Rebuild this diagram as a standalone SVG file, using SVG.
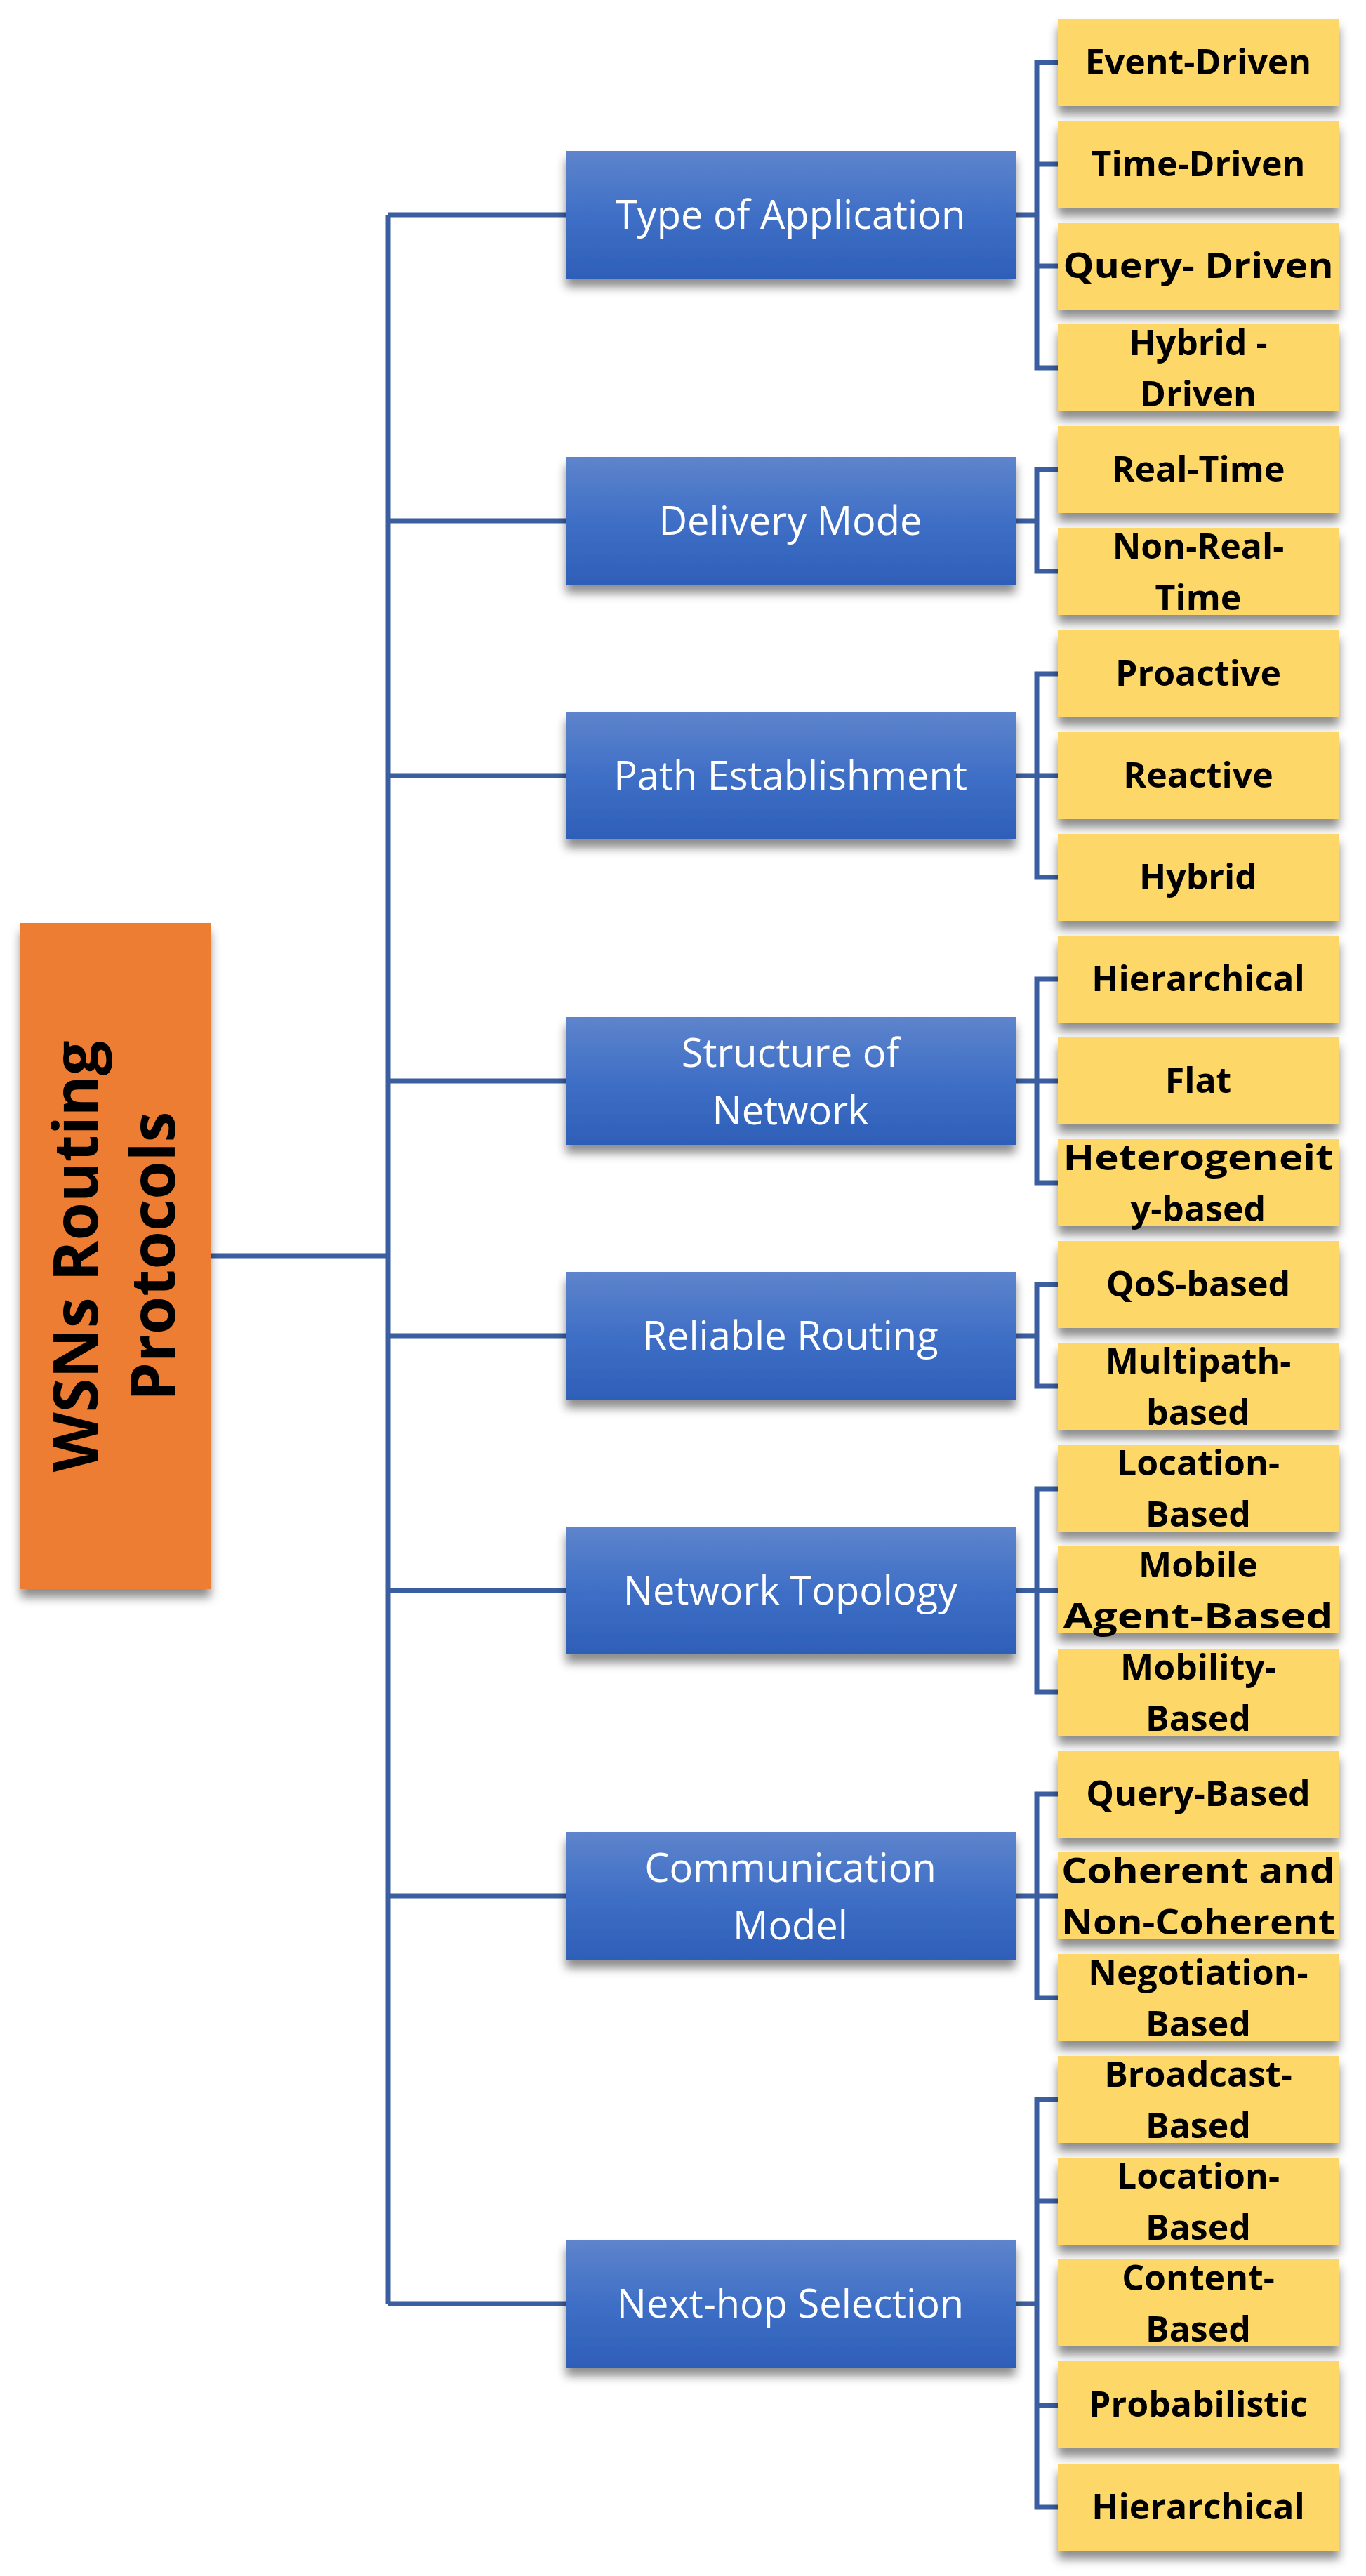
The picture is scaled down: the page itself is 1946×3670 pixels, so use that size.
<svg xmlns="http://www.w3.org/2000/svg" width="1946" height="3670" viewBox="0 0 1946 3670">
<defs>
<linearGradient id="bg" x1="0" y1="0" x2="0" y2="1"><stop offset="0" stop-color="#5E84CC"/><stop offset="0.5" stop-color="#3F6FC6"/><stop offset="1" stop-color="#2E5FB8"/></linearGradient>
<filter id="sh" x="-10%" y="-10%" width="125%" height="140%"><feDropShadow dx="0" dy="12" stdDeviation="7" flood-color="#000" flood-opacity="0.45"/></filter>
<style>
.ln{fill:none;stroke:#3A5E9F;stroke-width:7}
.bl{fill:url(#bg);filter:url(#sh)}
.yl{fill:#FDD867;filter:url(#sh)}
.bt{font-family:"Open Sans","Liberation Sans",sans-serif;font-size:56px;fill:#fff;text-anchor:middle}
.yt{font-family:"Open Sans","Liberation Sans",sans-serif;font-weight:bold;font-size:50px;fill:#000;text-anchor:middle}
.rt{font-family:"Open Sans","Liberation Sans",sans-serif;font-weight:bold;font-size:88px;fill:#000;text-anchor:middle}
</style>
</defs>
<rect width="1946" height="3670" fill="#fff"/>
<g id="connectors">
<path class="ln" d="M300 1789H553M553 306V3282M553 306H806M553 742H806M553 1105H806M553 1540H806M553 1903H806M553 2266H806M553 2701H806M553 3282H806"/>
<path class="ln" d="M1447 306H1477M1507 89H1477V524H1507M1477 234H1507M1477 379H1507"/>
<path class="ln" d="M1447 742H1477M1507 669H1477V814H1507"/>
<path class="ln" d="M1447 1105H1477M1507 960H1477V1250H1507M1477 1105H1507"/>
<path class="ln" d="M1447 1540H1477M1507 1395H1477V1685H1507M1477 1540H1507"/>
<path class="ln" d="M1447 1903H1477M1507 1830H1477V1975H1507"/>
<path class="ln" d="M1447 2266H1477M1507 2121H1477V2411H1507M1477 2266H1507"/>
<path class="ln" d="M1447 2701H1477M1507 2556H1477V2846H1507M1477 2701H1507"/>
<path class="ln" d="M1447 3282H1477M1507 2991H1477V3572H1507M1477 3136H1507M1477 3427H1507"/>
</g>
<g id="root"><rect x="29" y="1315" width="271" height="949" fill="#ED7D31" filter="url(#sh)"/>
<g transform="translate(165,1790) rotate(-90)"><text class="rt" x="0" y="-26">WSNs Routing</text><text class="rt" x="0" y="84">Protocols</text></g></g>
<g id="b1"><rect class="bl" x="806" y="215" width="641" height="182"/><text class="bt" x="1126" y="326">Type of Application</text></g>
<g id="b2"><rect class="bl" x="806" y="651" width="641" height="182"/><text class="bt" x="1126" y="762">Delivery Mode</text></g>
<g id="b3"><rect class="bl" x="806" y="1014" width="641" height="182"/><text class="bt" x="1126" y="1125">Path Establishment</text></g>
<g id="b4"><rect class="bl" x="806" y="1449" width="641" height="182"/><text class="bt" x="1126" y="1520">Structure of</text><text class="bt" x="1126" y="1602">Network</text></g>
<g id="b5"><rect class="bl" x="806" y="1812" width="641" height="182"/><text class="bt" x="1126" y="1923">Reliable Routing</text></g>
<g id="b6"><rect class="bl" x="806" y="2175" width="641" height="182"/><text class="bt" x="1126" y="2286">Network Topology</text></g>
<g id="b7"><rect class="bl" x="806" y="2610" width="641" height="182"/><text class="bt" x="1126" y="2681">Communication</text><text class="bt" x="1126" y="2763">Model</text></g>
<g id="b8"><rect class="bl" x="806" y="3191" width="641" height="182"/><text class="bt" x="1126" y="3302">Next-hop Selection</text></g>
<g id="y0"><rect class="yl" x="1507" y="27" width="401" height="124"/><text class="yt" x="1707" y="106">Event-Driven</text></g>
<g id="y1"><rect class="yl" x="1507" y="172" width="401" height="124"/><text class="yt" x="1707" y="251">Time-Driven</text></g>
<g id="y2"><rect class="yl" x="1507" y="317" width="401" height="124"/><text class="yt" x="1707" y="396" textLength="385" lengthAdjust="spacingAndGlyphs">Query- Driven</text></g>
<g id="y3"><rect class="yl" x="1507" y="462" width="401" height="124"/><text class="yt" x="1707" y="506">Hybrid -</text><text class="yt" x="1707" y="579">Driven</text></g>
<g id="y4"><rect class="yl" x="1507" y="607" width="401" height="124"/><text class="yt" x="1707" y="686">Real-Time</text></g>
<g id="y5"><rect class="yl" x="1507" y="752" width="401" height="124"/><text class="yt" x="1707" y="796">Non-Real-</text><text class="yt" x="1707" y="869">Time</text></g>
<g id="y6"><rect class="yl" x="1507" y="898" width="401" height="124"/><text class="yt" x="1707" y="977">Proactive</text></g>
<g id="y7"><rect class="yl" x="1507" y="1043" width="401" height="124"/><text class="yt" x="1707" y="1122">Reactive</text></g>
<g id="y8"><rect class="yl" x="1507" y="1188" width="401" height="124"/><text class="yt" x="1707" y="1267">Hybrid</text></g>
<g id="y9"><rect class="yl" x="1507" y="1333" width="401" height="124"/><text class="yt" x="1707" y="1412">Hierarchical</text></g>
<g id="y10"><rect class="yl" x="1507" y="1478" width="401" height="124"/><text class="yt" x="1707" y="1557">Flat</text></g>
<g id="y11"><rect class="yl" x="1507" y="1623" width="401" height="124"/><text class="yt" x="1707" y="1667" textLength="385" lengthAdjust="spacingAndGlyphs">Heterogeneit</text><text class="yt" x="1707" y="1740">y-based</text></g>
<g id="y12"><rect class="yl" x="1507" y="1768" width="401" height="124"/><text class="yt" x="1707" y="1847">QoS-based</text></g>
<g id="y13"><rect class="yl" x="1507" y="1913" width="401" height="124"/><text class="yt" x="1707" y="1957">Multipath-</text><text class="yt" x="1707" y="2030">based</text></g>
<g id="y14"><rect class="yl" x="1507" y="2058" width="401" height="124"/><text class="yt" x="1707" y="2102">Location-</text><text class="yt" x="1707" y="2175">Based</text></g>
<g id="y15"><rect class="yl" x="1507" y="2203" width="401" height="124"/><text class="yt" x="1707" y="2247">Mobile</text><text class="yt" x="1707" y="2320" textLength="385" lengthAdjust="spacingAndGlyphs">Agent-Based</text></g>
<g id="y16"><rect class="yl" x="1507" y="2349" width="401" height="124"/><text class="yt" x="1707" y="2393">Mobility-</text><text class="yt" x="1707" y="2466">Based</text></g>
<g id="y17"><rect class="yl" x="1507" y="2494" width="401" height="124"/><text class="yt" x="1707" y="2573">Query-Based</text></g>
<g id="y18"><rect class="yl" x="1507" y="2639" width="401" height="124"/><text class="yt" x="1707" y="2683" textLength="390" lengthAdjust="spacingAndGlyphs">Coherent and</text><text class="yt" x="1707" y="2756" textLength="390" lengthAdjust="spacingAndGlyphs">Non-Coherent</text></g>
<g id="y19"><rect class="yl" x="1507" y="2784" width="401" height="124"/><text class="yt" x="1707" y="2828">Negotiation-</text><text class="yt" x="1707" y="2901">Based</text></g>
<g id="y20"><rect class="yl" x="1507" y="2929" width="401" height="124"/><text class="yt" x="1707" y="2973">Broadcast-</text><text class="yt" x="1707" y="3046">Based</text></g>
<g id="y21"><rect class="yl" x="1507" y="3074" width="401" height="124"/><text class="yt" x="1707" y="3118">Location-</text><text class="yt" x="1707" y="3191">Based</text></g>
<g id="y22"><rect class="yl" x="1507" y="3219" width="401" height="124"/><text class="yt" x="1707" y="3263">Content-</text><text class="yt" x="1707" y="3336">Based</text></g>
<g id="y23"><rect class="yl" x="1507" y="3364" width="401" height="124"/><text class="yt" x="1707" y="3443">Probabilistic</text></g>
<g id="y24"><rect class="yl" x="1507" y="3510" width="401" height="124"/><text class="yt" x="1707" y="3589">Hierarchical</text></g>
</svg>
